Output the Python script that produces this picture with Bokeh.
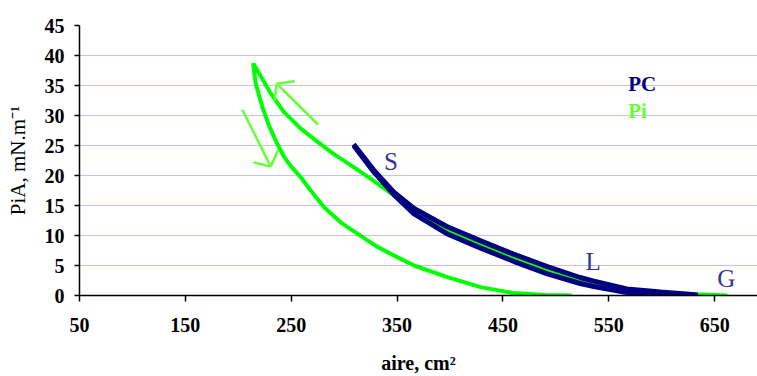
from bokeh.plotting import figure
from bokeh.models import FixedTicker, Range1d
from bokeh.core.properties import value
from bokeh.embed import file_html
from bokeh.resources import INLINE

# Pi isotherm (compression then expansion), area cm2 vs pressure mN/m
pi_comp_x = [662, 634, 599, 567, 523, 492, 460, 429, 397, 366, 353, 347, 328, 309, 290, 275, 259, 243, 231, 220, 214]
pi_comp_y = [0.0, 0.2, 0.5, 0.9, 2.5, 4.2, 6.3, 8.5, 10.9, 14.2, 15.8, 16.7, 19.1, 21.4, 23.6, 25.6, 27.8, 30.6, 33.6, 36.9, 38.7]
pi_exp_x = [214, 216.5, 222.8, 229, 237, 243, 249.5, 259, 268.4, 281, 296.7, 312.5, 331.4, 353.4, 366, 397.5, 429, 460, 490, 515]
pi_exp_y = [38.7, 35.3, 31.4, 28.3, 25.2, 23.2, 21.6, 19.7, 17.5, 14.7, 12.2, 10.3, 8.1, 6.1, 5.0, 3.05, 1.4, 0.4, 0.1, 0.0]

# PC isotherm (two branches of the loop)
pc_a_x = [634, 599, 567, 536, 523, 492, 460, 429, 397, 366, 347, 328, 309]
pc_a_y = [0.0, 0.3, 0.5, 1.5, 2.0, 3.6, 5.7, 7.9, 10.3, 13.6, 16.8, 20.6, 25.0]
pc_b_x = [309, 328, 347, 366, 397, 429, 460, 492, 523, 536, 567, 599, 634]
pc_b_y = [25.2, 20.9, 17.2, 14.5, 11.5, 9.1, 6.9, 4.8, 3.0, 2.4, 1.1, 0.6, 0.1]

# hand-drawn arrows (shaft start, shaft end, barb 1, barb 2)
arrow_up_x = [275.3, 236.3, 253.3, 234.4]
arrow_up_y = [28.5, 35.3, 35.7, 32.5]
arrow_down_x = [203.9, 230.6, 214.3, 237.9]
arrow_down_y = [30.95, 21.5, 22.2, 24.3]

# annotations
phase_labels = ["S", "L", "G"]
phase_x = [337.6, 528.1, 652.5]
phase_y = [22.4, 5.7, 2.9]
legend_labels = ["PC", "Pi"]
legend_x = [568.4, 568.4]
legend_y = [35.3, 30.7]

x_ticks = [50, 150, 250, 350, 450, 550, 650]
y_ticks = [0, 5, 10, 15, 20, 25, 30, 35, 40, 45]

GREEN = "#00FF00"
ARROW = "#66FF33"
NAVY = "#000080"
SLATE = "#333399"
FONT = "Liberation Serif"

p = figure(width=757, height=376, output_backend="svg", toolbar_location=None,
           x_range=Range1d(50, 690.5), y_range=Range1d(0, 45),
           min_border_left=79, min_border_right=0, min_border_top=25, min_border_bottom=81)
p.outline_line_color = None
p.background_fill_color = "white"
p.border_fill_color = "white"

p.xgrid.grid_line_color = None
p.ygrid.grid_line_color = "#C0C0FF"
p.ygrid.grid_line_width = 1
p.ygrid.ticker = FixedTicker(ticks=y_ticks)

p.xaxis.ticker = FixedTicker(ticks=x_ticks)
p.yaxis.ticker = FixedTicker(ticks=y_ticks)
for ax in (p.xaxis[0], p.yaxis[0]):
    ax.axis_line_color = "black"
    ax.axis_line_width = 1.5
    ax.major_tick_line_color = "black"
    ax.major_tick_line_width = 1.5
    ax.major_tick_in = 0
    ax.minor_tick_line_color = None
    ax.major_label_text_font = FONT
    ax.major_label_text_font_style = "bold"
    ax.major_label_text_font_size = "20px"
    ax.major_label_text_color = "black"
    ax.axis_label_text_font = FONT
    ax.axis_label_text_color = "black"

p.xaxis.major_tick_out = 6
p.xaxis.major_label_standoff = 16
p.xaxis.axis_label = "aire, cm²"
p.xaxis.axis_label_text_font_style = "bold"
p.xaxis.axis_label_text_font_size = "20px"
p.xaxis.axis_label_standoff = 17

p.yaxis.major_tick_out = 5
p.yaxis.major_label_standoff = 10
p.yaxis.axis_label = "PiA, mN.m⁻¹"
p.yaxis.axis_label_text_font_style = "normal"
p.yaxis.axis_label_text_font_size = "21px"
p.yaxis.axis_label_standoff = 12

# Pi loop
p.line(pi_comp_x, pi_comp_y, line_color=GREEN, line_width=4)
p.line(pi_exp_x, pi_exp_y, line_color=GREEN, line_width=4)

# PC loop
p.line(pc_a_x, pc_a_y, line_color=NAVY, line_width=5)
p.line(pc_b_x, pc_b_y, line_color=NAVY, line_width=5)

# arrows
for ax_, ay_ in ((arrow_up_x, arrow_up_y), (arrow_down_x, arrow_down_y)):
    p.segment(x0=[ax_[0], ax_[1], ax_[1]], y0=[ay_[0], ay_[1], ay_[1]],
              x1=[ax_[1], ax_[2], ax_[3]], y1=[ay_[1], ay_[2], ay_[3]],
              line_color=ARROW, line_width=2.5)

# phase labels
p.text(x=phase_x, y=phase_y, text=phase_labels, text_font=value(FONT),
       text_font_size="25px", text_color=SLATE, text_baseline="alphabetic", text_align="left")

# legend texts
p.text(x=[legend_x[0]], y=[legend_y[0]], text=[legend_labels[0]], text_font=value(FONT),
       text_font_size="21px", text_font_style="bold", text_color=NAVY,
       text_baseline="alphabetic", text_align="left")
p.text(x=[legend_x[1]], y=[legend_y[1]], text=[legend_labels[1]], text_font=value(FONT),
       text_font_size="21px", text_font_style="bold", text_color=ARROW,
       text_baseline="alphabetic", text_align="left")

open("out.html", "w").write(file_html(p, INLINE))
